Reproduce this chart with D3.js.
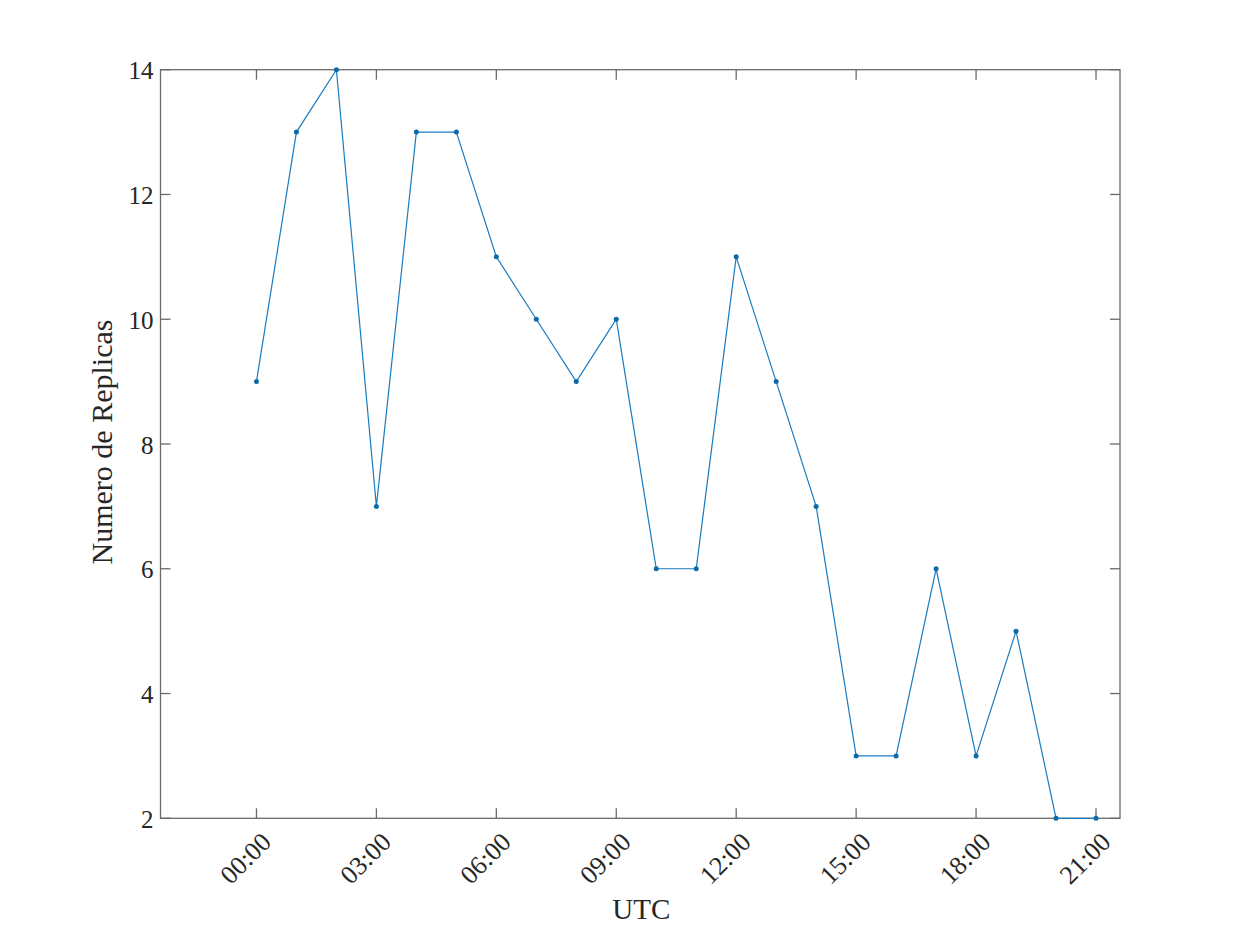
<!DOCTYPE html>
<html><head><meta charset="utf-8">
<script src="https://cdn.jsdelivr.net/npm/d3@7"></script>
<style>body{margin:0;background:#fff;} svg{display:block;}</style>
</head><body>
<script>
const hours = [0,1,2,3,4,5,6,7,8,9,10,11,12,13,14,15,16,17,18,19,20,21];
const replicas = [9,13,14,7,13,13,11,10,9,10,6,6,11,9,7,3,3,6,3,5,2,2];
const xTickHours = [0,3,6,9,12,15,18,21];
const xTickLabels = ["00:00","03:00","06:00","09:00","12:00","15:00","18:00","21:00"];
const yTicks = [2,4,6,8,10,12,14];
const xLabel = "UTC";
const yLabel = "Numero de Replicas";

(function(){
const W = 1237, H = 927;
const mL = 160.5, mR = 1120, mT = 69.7, mB = 818.3;
const font = "'Liberation Serif', 'DejaVu Serif', serif";
const textColor = "#262626";
const axisColor = "#6a6a6a";
const lineColor = "#1a7bbf";

const svg = d3.select("body").append("svg").attr("width", W).attr("height", H);
const x = d3.scaleLinear().domain([-2.4, 21.6]).range([mL, mR]);
const y = d3.scaleLinear().domain([2, 14]).range([mB, mT]);

svg.append("rect").attr("x", mL).attr("y", mT).attr("width", mR-mL).attr("height", mB-mT)
  .attr("fill", "none").attr("stroke", axisColor).attr("stroke-width", 1.3);

const tl = 10;
const xg = svg.append("g");
xTickHours.forEach((h, i) => {
  const px = x(h);
  xg.append("line").attr("x1", px).attr("x2", px).attr("y1", mB).attr("y2", mB - tl).attr("stroke", axisColor).attr("stroke-width", 1.3);
  xg.append("line").attr("x1", px).attr("x2", px).attr("y1", mT).attr("y2", mT + tl).attr("stroke", axisColor).attr("stroke-width", 1.3);
  xg.append("text").attr("transform", `translate(${px+12},${mB+21}) rotate(-45)`)
    .attr("text-anchor", "end").attr("dominant-baseline", "middle")
    .attr("font-family", font).attr("font-size", 26).attr("fill", textColor).text(xTickLabels[i]);
});
const yg = svg.append("g");
yTicks.forEach(v => {
  const py = y(v);
  yg.append("line").attr("x1", mL).attr("x2", mL + tl).attr("y1", py).attr("y2", py).attr("stroke", axisColor).attr("stroke-width", 1.3);
  yg.append("line").attr("x1", mR).attr("x2", mR - tl).attr("y1", py).attr("y2", py).attr("stroke", axisColor).attr("stroke-width", 1.3);
  yg.append("text").attr("x", mL - 7).attr("y", py + 1).attr("text-anchor", "end").attr("dominant-baseline", "central")
    .attr("font-family", font).attr("font-size", 25).attr("fill", textColor).text(v);
});

svg.append("text").attr("x", (mL+mR)/2 + 1).attr("y", 919).attr("text-anchor", "middle")
  .attr("font-family", font).attr("font-size", 29).attr("fill", textColor).text(xLabel);
svg.append("text").attr("transform", `translate(112,442) rotate(-90)`).attr("text-anchor", "middle")
  .attr("font-family", font).attr("font-size", 30).attr("fill", textColor).text(yLabel);

const data = hours.map((h, i) => ({h, v: replicas[i]}));
svg.append("path").datum(data)
  .attr("d", d3.line().x(d => x(d.h)).y(d => y(d.v)))
  .attr("fill", "none").attr("stroke", lineColor).attr("stroke-width", 1.2);
svg.selectAll("circle.pt").data(data).enter().append("circle")
  .attr("cx", d => x(d.h)).attr("cy", d => y(d.v)).attr("r", 2.5).attr("fill", "#0b6aa8");
})();
</script>
</body></html>
